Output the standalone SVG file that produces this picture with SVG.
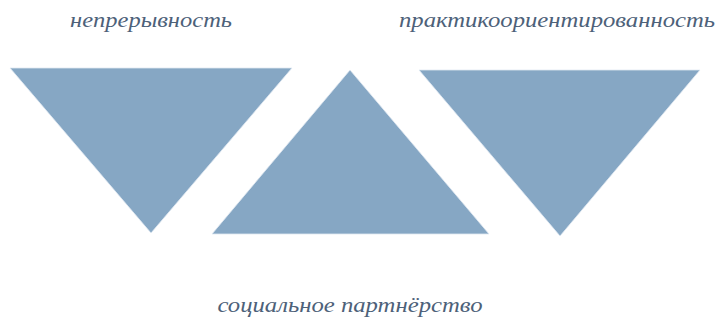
<svg xmlns="http://www.w3.org/2000/svg" width="721" height="320" viewBox="0 0 721 320">
<style>
.tri{fill:#86a7c4;stroke:#dfe8f1;stroke-width:0.8}
.lbl{font-family:"Liberation Serif",serif;font-style:italic;font-size:22px;fill:#4d6179;text-anchor:middle}
</style>
<rect width="721" height="320" fill="#ffffff"/>
<g id="node-left">
<polygon class="tri" points="10,68 292,68 151,233"/>
<text class="lbl" x="151" y="27" textLength="162" lengthAdjust="spacingAndGlyphs">непрерывность</text>
</g>
<g id="node-middle">
<polygon class="tri" points="350,70 489,234 212,234"/>
<text class="lbl" x="350" y="312" textLength="265" lengthAdjust="spacingAndGlyphs">социальное партнёрство</text>
</g>
<g id="node-right">
<polygon class="tri" points="419,70 700,70 560,236"/>
<text class="lbl" x="557" y="27" textLength="316" lengthAdjust="spacingAndGlyphs">практикоориентированность</text>
</g>
<g id="connectors"></g>
</svg>
